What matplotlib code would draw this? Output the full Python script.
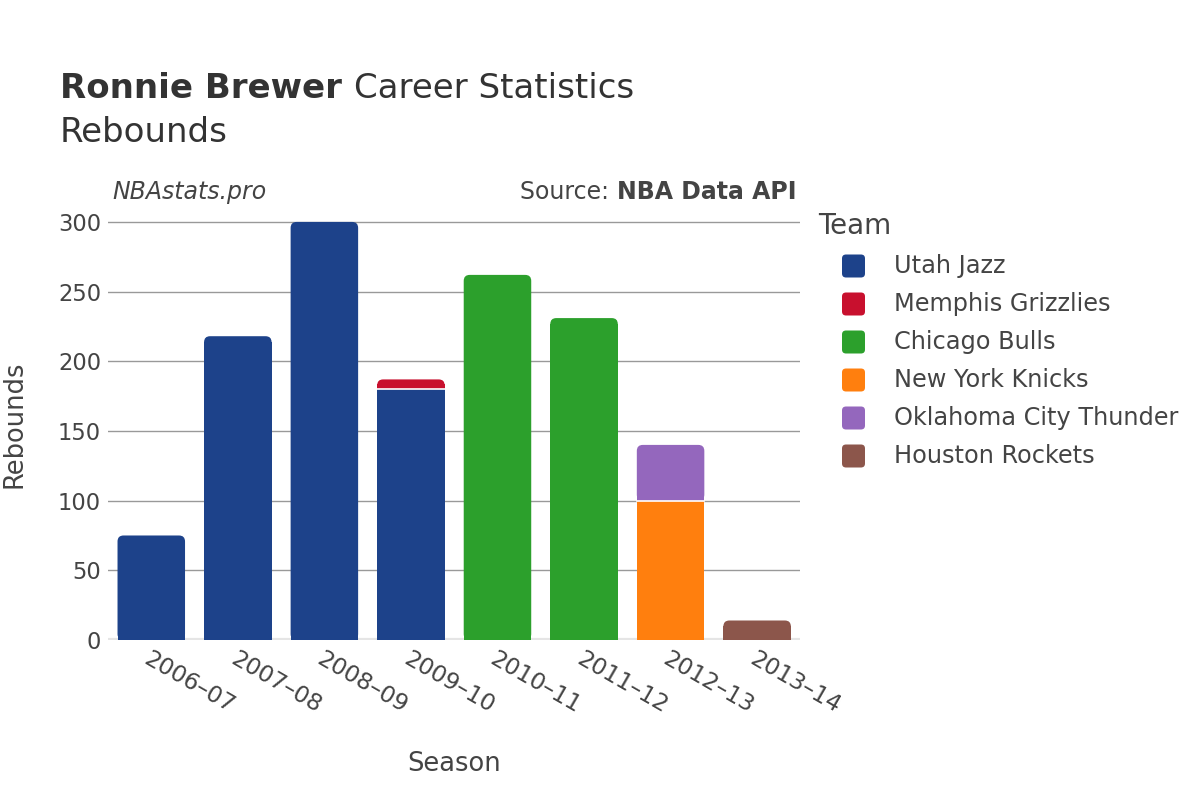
import numpy as np
import matplotlib
matplotlib.use("Agg")
import matplotlib.pyplot as plt
from matplotlib.patches import FancyBboxPatch

seasons = ["2006–07", "2007–08", "2008–09", "2009–10", "2010–11", "2011–12", "2012–13", "2013–14"]
teams = ["Utah Jazz", "Memphis Grizzlies", "Chicago Bulls", "New York Knicks",
         "Oklahoma City Thunder", "Houston Rockets"]
colors = ["#1d428a", "#c8102e", "#2ca02c", "#ff7f0e", "#9467bd", "#8c564b"]

# rebounds per team per season (stack order follows teams list)
utah = [75, 218, 300, 180, 0, 0, 0, 0]
memphis = [0, 0, 0, 7, 0, 0, 0, 0]
chicago = [0, 0, 0, 0, 262, 231, 0, 0]
knicks = [0, 0, 0, 0, 0, 0, 100, 0]
okc = [0, 0, 0, 0, 0, 0, 40, 0]
houston = [0, 0, 0, 0, 0, 0, 0, 14]
series = [utah, memphis, chicago, knicks, okc, houston]

txt = "#444444"
plt.rcParams['font.family'] = ['DejaVu Sans']

W, H = 12, 8
fig = plt.figure(figsize=(W, H), dpi=100)
ax_rect = [0.09, 0.2, 0.577, 0.54]
ax = fig.add_axes(ax_rect)

ymax = 310
n = len(seasons)
ax.set_xlim(-0.5, n - 0.5)
ax.set_ylim(0, ymax)

# pixel scales, used to keep the rounded corners circular
px_x = ax_rect[2] * W * 100 / n
px_y = ax_rect[3] * H * 100 / ymax
rad_px = 6
bw = 0.78

x = np.arange(n)
totals = np.sum(series, axis=0)
bottom = np.zeros(n)
for vals, col in zip(series, colors):
    for i in range(n):
        v = vals[i]
        if v <= 0:
            continue
        b = bottom[i]
        if b + v >= totals[i]:
            # top segment: rounded top corners
            r_y = min(rad_px / px_y, v / 2)
            p = FancyBboxPatch((x[i] - bw / 2, b), bw, v,
                               boxstyle="round,pad=0,rounding_size=%f" % (rad_px / px_x),
                               mutation_aspect=px_x / px_y,
                               facecolor=col, edgecolor="none", zorder=3)
            ax.add_patch(p)
            ax.bar(x[i], v - r_y, width=bw, bottom=b, color=col,
                   edgecolor="none", zorder=3)
        else:
            ax.bar(x[i], v, width=bw, bottom=b, color=col, edgecolor="none", zorder=3)
        if b > 0:
            ax.plot([x[i] - bw / 2, x[i] + bw / 2], [b, b], color="white", lw=1.2, zorder=4)
    bottom += np.array(vals)

ax.set_yticks([0, 50, 100, 150, 200, 250, 300])
ax.grid(axis="y", color="#999999", linewidth=1, zorder=0)
ax.axhline(0, color="#e5e5e5", linewidth=3, zorder=2)
for s in ax.spines.values():
    s.set_visible(False)
ax.tick_params(axis="y", length=0, labelsize=16.3, labelcolor=txt, pad=5)
ax.tick_params(axis="x", length=0, labelsize=16.8, labelcolor=txt, pad=5)
ax.set_xticks(x)
ax.set_xticklabels(seasons, rotation=-30, ha="left", rotation_mode="anchor")
ax.set_xlabel("Season", fontsize=18.5, color=txt, labelpad=24)
ax.set_ylabel("Rebounds", fontsize=18.5, color=txt, labelpad=22)

fig.canvas.draw()
r = fig.canvas.get_renderer()

t1 = fig.text(0.05, 0.89, "Ronnie Brewer ", fontsize=24.5, fontweight="bold", color="#333333", va="center")
bb = t1.get_window_extent(renderer=r)
fig.text(bb.x1 / (W * 100), 0.89, "Career Statistics", fontsize=24.5, color="#333333", va="center")
fig.text(0.05, 0.835, "Rebounds", fontsize=24.5, color="#333333", va="center")

fig.text(0.094, 0.76, "NBAstats.pro", fontsize=17, style="italic", color=txt, va="center")
t2 = fig.text(0.6635, 0.76, "NBA Data API", fontsize=17, fontweight="bold", color=txt, va="center", ha="right")
bb2 = t2.get_window_extent(renderer=r)
fig.text(bb2.x0 / (W * 100), 0.76, "Source: ", fontsize=17, color=txt, va="center", ha="right")

# legend
fig.text(818 / 1200, 1 - 226 / 800, "Team", fontsize=20, color=txt, va="center")
sq = 23
for k, (t, c) in enumerate(zip(teams, colors)):
    yc = 266 + 38 * k
    box = FancyBboxPatch((842 / 1200, 1 - (yc + sq / 2) / 800), sq / 1200, sq / 800,
                         boxstyle="round,pad=0,rounding_size=%f" % (4 / 1200),
                         mutation_aspect=1.5, transform=fig.transFigure,
                         facecolor=c, edgecolor="none")
    fig.patches.append(box)
    fig.text(894 / 1200, 1 - yc / 800, t, fontsize=17.3, color=txt, va="center")

fig.savefig("out.png", dpi=100)
